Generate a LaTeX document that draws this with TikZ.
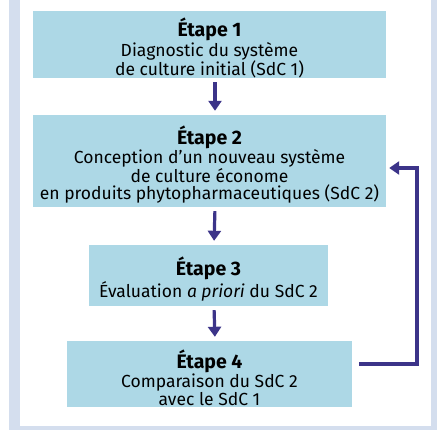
\documentclass[tikz,border=0pt]{standalone}
\usepackage{fontspec}
\setmainfont{Fira Sans}
\usetikzlibrary{arrows.meta,positioning,calc}
\definecolor{cadre}{RGB}{212,222,238}
\definecolor{boite}{RGB}{173,216,230}
\definecolor{fleche}{RGB}{60,52,137}
\tikzset{>={Triangle[width=13pt,length=10pt]}}
\tikzset{etape/.style={fill=boite,inner sep=0pt,align=center,
  font=\fontsize{17.5}{17.5}\selectfont}}
\newcommand{\titre}[1]{{\bfseries\fontsize{19.5}{18}\selectfont\rule{0pt}{26pt}#1}}

\begin{document}
\begin{tikzpicture}[x=1pt,y=-1pt]
\useasboundingbox (0,0) rectangle (437,430);
\fill[cadre] (9,0) rectangle (437,430);
\fill[white] (19.5,0) rectangle (431,426.5);
\node[etape,minimum width=353pt,minimum height=65pt] (e1) at (209.5,44.5)
  {\titre{Étape 1}\\Diagnostic du système\\de culture initial (SdC 1)};
\node[etape,minimum width=353pt,minimum height=92pt] (e2) at (209.5,161)
  {\titre{Étape 2}\\Conception d’un nouveau système\\de culture économe\\en produits phytopharmaceutiques (SdC 2)};
\node[etape,minimum width=239pt,minimum height=61pt] (e3) at (208.5,275.5)
  {\titre{Étape 3}\\Évaluation \textit{a priori} du SdC 2};
\node[etape,minimum width=285pt,minimum height=66pt] (e4) at (209.5,374)
  {\titre{Étape 4}\\Comparaison du SdC 2\\avec le SdC 1};
\begin{scope}[color=fleche,line width=3.2pt,shorten <=4pt,shorten >=4pt]
\draw[->] ([xshift=5.5pt]e1.south) to ([xshift=5.5pt]e2.north);
\draw[->] ([xshift=5.5pt]e2.south) to ([xshift=5.5pt]e3.north);
\draw[->] ([xshift=5.5pt]e3.south) to ([xshift=5.5pt]e4.north);
\end{scope}
\draw[->,color=fleche,line width=3.5pt,shorten <=7pt,shorten >=3pt]
  ([yshift=10pt]e4.east) -- ++(65,0) |- ([yshift=-7pt]e2.east);
%\draw[help lines,step=10] (0,0) grid (437,430);
\end{tikzpicture}
\end{document}
